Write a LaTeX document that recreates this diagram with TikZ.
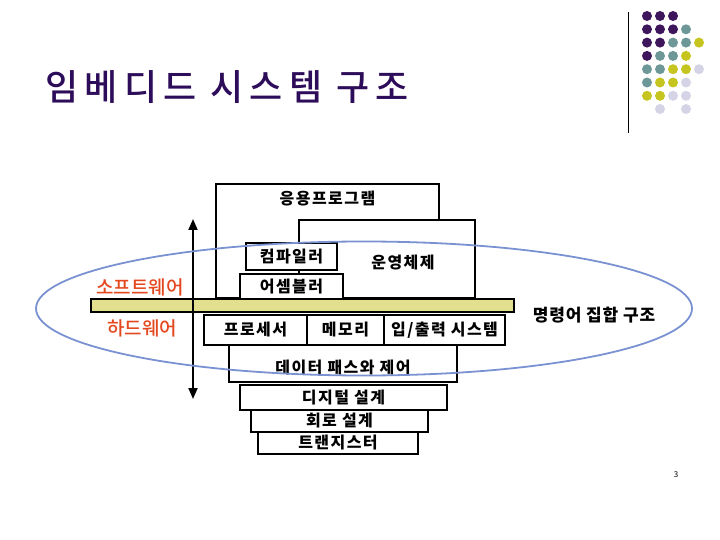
\documentclass[tikz,border=0pt]{standalone}
\usepackage{fontspec}
\setmainfont{Noto Sans CJK KR}
\newfontfamily\titlefont{Noto Sans CJK KR Medium}
\usetikzlibrary{calc, positioning, arrows.meta}

\definecolor{titlepurple}{RGB}{45,12,90}
\definecolor{dotpurple}{RGB}{62,22,92}
\definecolor{dotteal}{RGB}{110,152,152}
\definecolor{dotyellow}{RGB}{198,196,30}
\definecolor{dotlilac}{RGB}{212,212,230}
\definecolor{swred}{RGB}{228,72,30}
\definecolor{ringblue}{RGB}{122,146,210}
\definecolor{bandyellow}{RGB}{226,224,142}

\tikzset{
  layer/.style={draw, line width=2.4pt, fill=white, inner sep=0pt,
    font=\bfseries\fontsize{16}{18}\selectfont\addfontfeature{LetterSpace=9}},
  layertext/.style={anchor=center, inner sep=0pt,
    font=\bfseries\fontsize{16}{18}\selectfont\addfontfeature{LetterSpace=9}},
  sidelabel/.style={text=swred, font=\titlefont\fontsize{19}{21}\selectfont},
}

\begin{document}
\begin{tikzpicture}[x=1pt, y=-1pt, >={Triangle[length=11pt,width=9pt]}]
  \useasboundingbox (0,0) rectangle (720,540);
  % corner decoration: rule and dot grid
  \draw[line width=1pt] (628,12) -- (628,133);
  \foreach \j/\cs in {0/{dotpurple,dotpurple,dotpurple},
                      1/{dotpurple,dotpurple,dotpurple,dotteal},
                      2/{dotpurple,dotpurple,dotteal,dotteal,dotyellow},
                      3/{dotpurple,dotteal,dotteal,dotyellow},
                      4/{dotteal,dotteal,dotyellow,dotyellow,dotlilac},
                      5/{dotteal,dotyellow,dotyellow,dotlilac},
                      6/{dotyellow,dotyellow,dotlilac,dotlilac}}
    \foreach \c [count=\i from 0] in \cs
      \fill[\c] ({647+13*\i},{16+13.3*\j}) circle (5pt);
  \fill[dotlilac] (660,109) circle (5pt);
  \fill[dotlilac] (686,109) circle (5pt);
  % title
  \node[anchor=west, text=titlepurple, font=\titlefont\fontsize{36}{40}\selectfont\addfontfeature{LetterSpace=17}] (title) at (42,87) {임베디드 시스템 구조};
  % software layers
  \node[layer, minimum width=223pt, minimum height=114pt,
        label={[layertext, yshift=-16pt]north:응용프로그램}] (app) at (327.5,241) {};
  \node[layer, minimum width=176pt, minimum height=78pt,
        label={[layertext, xshift=16pt, yshift=-4pt]center:운영체제}] (os) at (387,259) {};
  \node[layer, minimum width=91pt, minimum height=27pt] (comp) at (291.5,256.5) {컴파일러};
  \node[layer, minimum width=103pt, minimum height=26pt] (asm) at (291.5,287) {어셈블러};
  % interface band
  \node[draw, line width=1.6pt, fill=bandyellow, minimum width=423pt, minimum height=13.5pt, inner sep=0pt] (band) at (302.5,305.5) {};
  % hardware layers
  \node[layer, minimum width=103pt, minimum height=30pt] (cpu) at (255.5,330) {프로세서};
  \node[layer, minimum width=77pt, minimum height=30pt] (mem) at (345.5,330) {메모리};
  \node[layer, minimum width=121pt, minimum height=30pt] (io) at (444.5,330) {입/출력 시스템};
  \node[layer, minimum width=228pt, minimum height=37pt,
        label={[layertext, yshift=-4.5pt]center:데이터 패스와 제어}] (path) at (343,363.5) {};
  \node[layer, minimum width=207pt, minimum height=25pt] (dig) at (343.5,397.5) {디지털 설계};
  \node[layer, minimum width=177pt, minimum height=22pt] (circ) at (339.5,421) {회로 설계};
  \node[layer, minimum width=160pt, minimum height=22pt] (tr) at (338,443) {트랜지스터};
  % side labels and range arrow
  \node[sidelabel] (sw) at (140,287) {소프트웨어};
  \node[sidelabel] (hw) at (142,328) {하드웨어};
  \coordinate (swtop) at (193,219);
  \coordinate (hwbot) at (193,399);
  \draw[<->, line width=2pt] (swtop) -- (hwbot);
  % instruction set ring
  \draw[ringblue, line width=1.8pt] (364,308.5) ellipse [x radius=328pt, y radius=67pt];
  \node[font=\bfseries\fontsize{17}{19}\selectfont\addfontfeature{LetterSpace=5}] (isa) at (594,315) {명령어 집합 구조};
  \node[font=\fontsize{8}{9}\selectfont] (page) at (676,475) {3};
\end{tikzpicture}
\end{document}
